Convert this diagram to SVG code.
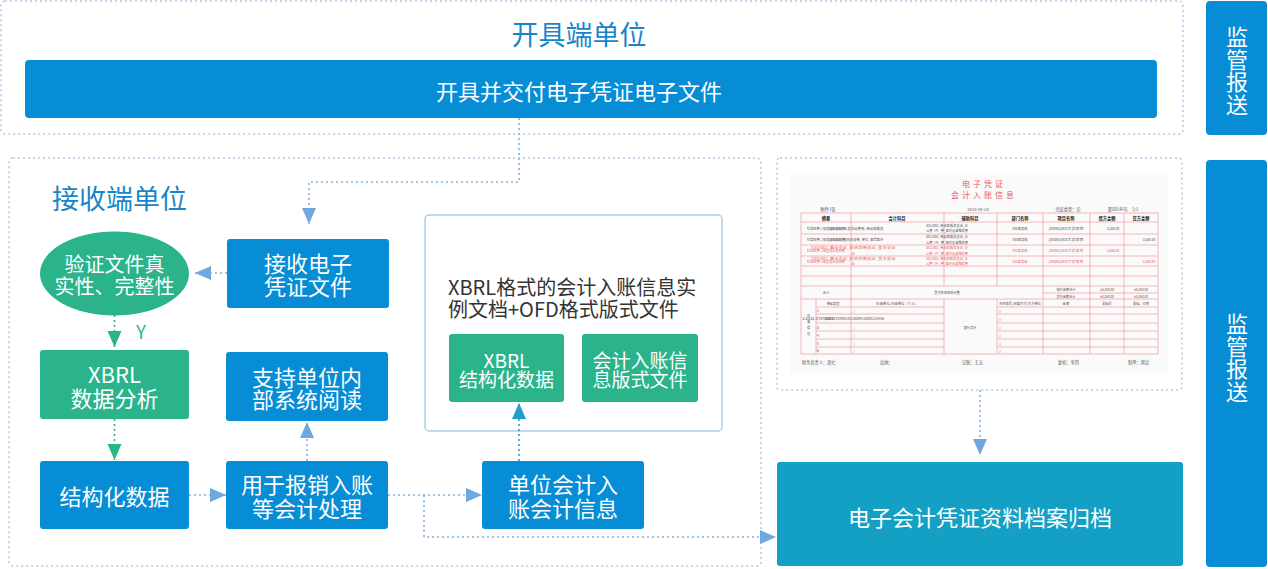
<svg xmlns="http://www.w3.org/2000/svg" width="1268" height="569" viewBox="0 0 1268 569">
<defs>
<style>
.t{font-family:"Noto Sans CJK SC","Noto Sans",sans-serif;}
.wt{font-family:"Noto Sans CJK SC","Noto Sans",sans-serif;fill:#fff;text-anchor:middle;dominant-baseline:central;}
.cont{fill:#fff;stroke:#aacbe8;stroke-width:1.5;stroke-dasharray:2 3;}
.blue{fill:#078dd5;}
.green{fill:#2bb38b;}
.con{fill:none;stroke:#7fb1e0;stroke-width:1.6;stroke-dasharray:2 3;}
.cong{fill:none;stroke:#2bb38b;stroke-width:1.6;stroke-dasharray:2 3;}
.cont2{fill:none;stroke:#22a0c8;stroke-width:1.6;stroke-dasharray:2 3;}
.tl{fill:none;stroke:#f5a3a6;stroke-width:0.8;}
.vs{font-family:"Noto Sans CJK SC",sans-serif;font-size:6.4px;fill:#555;text-anchor:middle;dominant-baseline:central;}
.vr{font-family:"Noto Sans CJK SC",sans-serif;font-size:6.4px;fill:#ec5a5e;text-anchor:middle;dominant-baseline:central;}
.vh{font-family:"Noto Sans CJK SC",sans-serif;font-size:8.4px;fill:#222;font-weight:bold;text-anchor:middle;dominant-baseline:central;}
.vf{font-family:"Noto Sans CJK SC",sans-serif;font-size:8.4px;fill:#555;dominant-baseline:central;}
</style>
<marker id="ab" markerUnits="userSpaceOnUse" markerWidth="18" markerHeight="16" refX="16" refY="7" orient="auto"><path d="M0,0 L16,7 L0,14 z" fill="#6ea8de"/></marker>
<marker id="ag" markerUnits="userSpaceOnUse" markerWidth="18" markerHeight="16" refX="16" refY="7" orient="auto"><path d="M0,0 L16,7 L0,14 z" fill="#2bb38b"/></marker>
<marker id="at" markerUnits="userSpaceOnUse" markerWidth="18" markerHeight="16" refX="16" refY="7" orient="auto"><path d="M0,0 L16,7 L0,14 z" fill="#1f9ecb"/></marker>
</defs>
<rect width="1268" height="569" fill="#fff"/>

<!-- containers -->
<g id="issuer">
<rect class="cont" x="1" y="1" width="1182" height="133" rx="4"/>
<text class="t" x="579" y="33" font-size="27" fill="#1785c8" text-anchor="middle" dominant-baseline="central">开具端单位</text>
</g>
<g id="receiver">
<rect class="cont" x="9" y="158" width="752" height="408" rx="4"/>
<text class="t" x="52" y="197" font-size="27" fill="#1785c8" dominant-baseline="central">接收端单位</text>
</g>
<g id="xbrl-doc">
<rect x="425" y="215" width="297" height="216" rx="4" fill="#fff" stroke="#a9cfe8" stroke-width="1.5"/>
<text class="t" x="448" y="286" font-size="20" fill="#333" dominant-baseline="central">XBRL格式的会计入账信息实</text>
<text class="t" x="448" y="308" font-size="20" fill="#333" dominant-baseline="central">例文档+OFD格式版式文件</text>
</g>
<g id="voucher">
<rect class="cont" x="777" y="158" width="405" height="232" rx="3"/>
<rect x="790" y="173" width="378" height="200" fill="#fafafb"/>
<text class="t" x="984" y="183" font-size="8" fill="#ec5a5e" text-anchor="middle" dominant-baseline="central" letter-spacing="3">电子凭证</text>
<text class="t" x="984" y="194" font-size="8" fill="#ec5a5e" text-anchor="middle" dominant-baseline="central" letter-spacing="3">会计入账信息</text>
<rect class="tl" x="801" y="213" width="357" height="141"/>
<path class="tl" d="M801,222H1158M801,234H1158M801,245H1158M801,256H1158M801,266H1158M801,276H1158M801,286H1158M1043,293H1158M801,299H1158M816,307H944M997,307H1158M816,314H944M997,314H1158M816,323H944M997,323H1158M816,331H944M997,331H1158M816,339H944M997,339H1158M816,347H944M997,347H1158"/>
<path class="tl" d="M851,213V286M944,213V286M997,213V286M1043,213V299M1090,213V299M1124,213V299M816,299V354M851,286V354M944,299V354M997,299V354M1043,299V354M1090,299V354M1124,299V354"/>
<g transform="scale(0.5)">
<text class="vf" x="1656" y="418" text-anchor="middle">附件1张</text>
<text class="vf" x="1956" y="418" text-anchor="middle">2023-04-20</text>
<text class="vf" x="2136" y="418" text-anchor="middle">凭证类型：记</text>
<text class="vf" x="2246" y="418" text-anchor="middle">第00146号　1/1</text>
<text class="vh" x="1652" y="435">摘要</text>
<text class="vh" x="1794" y="435">会计科目</text>
<text class="vh" x="1940" y="435">辅助科目</text>
<text class="vh" x="2040" y="435">部门名称</text>
<text class="vh" x="2132" y="435">项目名称</text>
<text class="vh" x="2214" y="435">借方金额</text>
<text class="vh" x="2282" y="435">贷方金额</text>
<text class="vs" x="1652" y="456" textLength="76" lengthAdjust="spacingAndGlyphs">科室经费二级建设业务经费</text>
<text class="vs" x="1712" y="456" text-anchor="start" textLength="110" lengthAdjust="spacingAndGlyphs">5301002_业务活动费用_商品和服务</text>
<text class="vs" x="1894" y="450.5" text-anchor="start" textLength="84" lengthAdjust="spacingAndGlyphs">3012002_商品和服务支出_办</text>
<text class="vs" x="1894" y="461.5" text-anchor="start" textLength="84" lengthAdjust="spacingAndGlyphs">公费（P）费_医疗设备维修费</text>
<text class="vs" x="2040" y="456">XXX医务部</text>
<text class="vs" x="2132" y="456" textLength="70" lengthAdjust="spacingAndGlyphs">(0000)XXX大学项目</text>
<text class="vs" x="2226" y="456">3,260.00</text>
<text class="vs" x="1652" y="479" textLength="76" lengthAdjust="spacingAndGlyphs">科室经费二级建设业务经费</text>
<text class="vs" x="1712" y="479" text-anchor="start" textLength="110" lengthAdjust="spacingAndGlyphs">1101002_其他应收款_单位_医院医疗</text>
<text class="vs" x="1894" y="473.5" text-anchor="start" textLength="84" lengthAdjust="spacingAndGlyphs">3012002_商品和服务支出_办</text>
<text class="vs" x="1894" y="484.5" text-anchor="start" textLength="84" lengthAdjust="spacingAndGlyphs">公费（P）费_医疗设备维修费</text>
<text class="vs" x="2040" y="479">XXX医务部</text>
<text class="vs" x="2132" y="479" textLength="70" lengthAdjust="spacingAndGlyphs">(0000)XXX大学项目</text>
<text class="vs" x="2298" y="479">3,260.00</text>
<text class="vr" x="1652" y="501" textLength="76" lengthAdjust="spacingAndGlyphs">科室经费二级建设业务经费</text>
<text class="vr" x="1706" y="495.5" text-anchor="start" textLength="170" lengthAdjust="spacingAndGlyphs">7201002_事业支出_财政拨款支出_基本支出</text>
<text class="vr" x="1706" y="506.5" text-anchor="start">出</text>
<text class="vr" x="1894" y="495.5" text-anchor="start" textLength="84" lengthAdjust="spacingAndGlyphs">3012002_商品和服务支出_办</text>
<text class="vr" x="1894" y="506.5" text-anchor="start" textLength="84" lengthAdjust="spacingAndGlyphs">公费（P）费_医疗设备维修费</text>
<text class="vr" x="2040" y="501">XXX医务部</text>
<text class="vr" x="2132" y="501" textLength="70" lengthAdjust="spacingAndGlyphs">(0000)XXX大学项目</text>
<text class="vr" x="2226" y="501">3,260.00</text>
<text class="vr" x="1652" y="522" textLength="76" lengthAdjust="spacingAndGlyphs">科室经费二级建设业务经费</text>
<text class="vr" x="1706" y="516.5" text-anchor="start" textLength="170" lengthAdjust="spacingAndGlyphs">7201002_事业支出_财政拨款支出_基本支出</text>
<text class="vr" x="1706" y="527" text-anchor="start">出</text>
<text class="vr" x="1894" y="516.5" text-anchor="start" textLength="84" lengthAdjust="spacingAndGlyphs">3012002_商品和服务支出_办</text>
<text class="vr" x="1894" y="527" text-anchor="start" textLength="84" lengthAdjust="spacingAndGlyphs">公费（P）费_医疗设备维修费</text>
<text class="vr" x="2040" y="522">XXX医务部</text>
<text class="vr" x="2132" y="522" textLength="70" lengthAdjust="spacingAndGlyphs">(0000)XXX大学项目</text>
<text class="vr" x="2298" y="522">3,260.00</text>
<text class="vs" x="1652" y="585">合计</text>
<text class="vs" x="1894" y="585">叁仟贰佰陆拾元整</text>
<text class="vs" x="2132" y="579">借方金额合计</text>
<text class="vs" x="2132" y="592">贷方金额合计</text>
<text class="vs" x="2214" y="579">¥3,260.00</text>
<text class="vs" x="2282" y="579">¥3,260.00</text>
<text class="vs" x="2214" y="592">¥3,260.00</text>
<text class="vs" x="2282" y="592">¥3,260.00</text>
<text class="vs" x="1617" y="630">往</text>
<text class="vs" x="1617" y="642">来</text>
<text class="vs" x="1617" y="654">信</text>
<text class="vs" x="1617" y="666">息</text>
<text class="vs" x="1666" y="606">单据类型</text>
<text class="vs" x="1794" y="606" textLength="84" lengthAdjust="spacingAndGlyphs">往来单位/往来单位（个人）</text>
<text class="vs" x="2040" y="606" textLength="84" lengthAdjust="spacingAndGlyphs">合同编号/结算方式/对方单位</text>
<text class="vs" x="2132" y="606">金 额</text>
<text class="vs" x="2214" y="606">票据号</text>
<text class="vs" x="2282" y="606">票据、日期</text>
<text class="vs" x="1636" y="621" text-anchor="start">1:</text>
<text class="vs" x="1636" y="637" text-anchor="start" textLength="62" lengthAdjust="spacingAndGlyphs">2:2022-07290001</text>
<text class="vs" x="1636" y="654" text-anchor="start">3:</text>
<text class="vs" x="1636" y="670" text-anchor="start">4:</text>
<text class="vs" x="1636" y="686" text-anchor="start">5:</text>
<text class="vs" x="1636" y="701" text-anchor="start">6:</text>
<text class="vs" x="1708" y="621" text-anchor="start">/</text>
<text class="vs" x="1708" y="637" text-anchor="start" textLength="120" lengthAdjust="spacingAndGlyphs">/20220729001011000912000123456</text>
<text class="vs" x="1708" y="654" text-anchor="start">/</text>
<text class="vs" x="1708" y="670" text-anchor="start">/</text>
<text class="vs" x="1708" y="686" text-anchor="start">/</text>
<text class="vs" x="1708" y="701" text-anchor="start">/</text>
<text class="vs" x="1940" y="654">银行流水</text>
<text class="vs" x="2000" y="621" text-anchor="start">//</text>
<text class="vs" x="2000" y="637" text-anchor="start">//</text>
<text class="vs" x="2000" y="654" text-anchor="start">//</text>
<text class="vs" x="2000" y="670" text-anchor="start">//</text>
<text class="vs" x="2000" y="686" text-anchor="start">//</text>
<text class="vs" x="2000" y="701" text-anchor="start">//</text>
<text class="vf" x="1604" y="724">财务负责人：周七</text>
<text class="vf" x="1760" y="724">出纳：</text>
<text class="vf" x="1924" y="724">记账：王五</text>
<text class="vf" x="2116" y="724">复核：李四</text>
<text class="vf" x="2256" y="724">制单：测试</text>
</g>
</g>

<!-- connectors -->
<g id="connectors">
<path class="con" d="M519,118V182H309V224" marker-end="url(#ab)"/>
<path class="con" d="M227,273H195" marker-end="url(#ab)"/>
<path class="cong" d="M114.5,315V347" marker-end="url(#ag)"/>
<text class="t" x="141" y="331" font-size="18" fill="#2bb38b" text-anchor="middle" dominant-baseline="central">Y</text>
<path class="cong" d="M114.5,419V460" marker-end="url(#ag)"/>
<path class="con" d="M189,495H226" marker-end="url(#ab)"/>
<path class="con" d="M307,461V422" marker-end="url(#ab)"/>
<path class="con" d="M388,495H482" marker-end="url(#ab)"/>
<path class="con" d="M424,495V537H776" marker-end="url(#ab)"/>
<path class="cont2" d="M519,461V403" marker-end="url(#at)"/>
<path class="con" d="M980,390V455" marker-end="url(#ab)"/>
</g>

<!-- nodes -->
<g id="issue-bar">
<rect class="blue" x="25" y="60" width="1132" height="58" rx="4"/>
<text class="wt" x="579" y="90" font-size="22">开具并交付电子凭证电子文件</text>
</g>
<g id="supervise-top">
<rect class="blue" x="1206" y="1" width="61" height="134" rx="4"/>
<text class="wt" x="1237" y="35" font-size="22">监</text>
<text class="wt" x="1237" y="57.5" font-size="22">管</text>
<text class="wt" x="1237" y="80" font-size="22">报</text>
<text class="wt" x="1237" y="102.5" font-size="22">送</text>
</g>
<g id="supervise-bottom">
<rect class="blue" x="1206" y="160" width="61" height="407" rx="4"/>
<text class="wt" x="1237" y="322" font-size="22">监</text>
<text class="wt" x="1237" y="344.5" font-size="22">管</text>
<text class="wt" x="1237" y="367" font-size="22">报</text>
<text class="wt" x="1237" y="389.5" font-size="22">送</text>
</g>
<g id="verify">
<ellipse class="green" cx="114.5" cy="273.5" rx="74.5" ry="42"/>
<text class="wt" x="114.5" y="263" font-size="20">验证文件真</text>
<text class="wt" x="114.5" y="285" font-size="20">实性、完整性</text>
</g>
<g id="receive">
<rect class="blue" x="227" y="239" width="162" height="69" rx="3"/>
<text class="wt" x="308" y="262" font-size="22">接收电子</text>
<text class="wt" x="308" y="285" font-size="22">凭证文件</text>
</g>
<g id="xbrl-analysis">
<rect class="green" x="40" y="350" width="149" height="69" rx="3"/>
<text class="wt" x="114.5" y="373" font-size="22">XBRL</text>
<text class="wt" x="114.5" y="397" font-size="22">数据分析</text>
</g>
<g id="structured">
<rect class="blue" x="40" y="461" width="149" height="68" rx="3"/>
<text class="wt" x="114.5" y="495" font-size="22">结构化数据</text>
</g>
<g id="internal-read">
<rect class="blue" x="226" y="352" width="162" height="69" rx="3"/>
<text class="wt" x="307" y="376" font-size="22">支持单位内</text>
<text class="wt" x="307" y="398" font-size="22">部系统阅读</text>
</g>
<g id="reimburse">
<rect class="blue" x="226" y="461" width="162" height="68" rx="3"/>
<text class="wt" x="307" y="483" font-size="22">用于报销入账</text>
<text class="wt" x="307" y="507" font-size="22">等会计处理</text>
</g>
<g id="xbrl-struct">
<rect class="green" x="449" y="334" width="115" height="68" rx="3"/>
<text class="wt" x="506.5" y="359" font-size="19">XBRL</text>
<text class="wt" x="506.5" y="378" font-size="19">结构化数据</text>
</g>
<g id="layout-file">
<rect class="green" x="582" y="334" width="116" height="68" rx="3"/>
<text class="wt" x="640" y="359" font-size="19">会计入账信</text>
<text class="wt" x="640" y="378" font-size="19">息版式文件</text>
</g>
<g id="unit-info">
<rect class="blue" x="482" y="461" width="162" height="68" rx="3"/>
<text class="wt" x="563" y="483" font-size="22">单位会计入</text>
<text class="wt" x="563" y="507" font-size="22">账会计信息</text>
</g>
<g id="archive">
<rect x="777" y="462" width="406" height="104" rx="3" fill="#14a0c5"/>
<text class="wt" x="980" y="516" font-size="22">电子会计凭证资料档案归档</text>
</g>
</svg>
